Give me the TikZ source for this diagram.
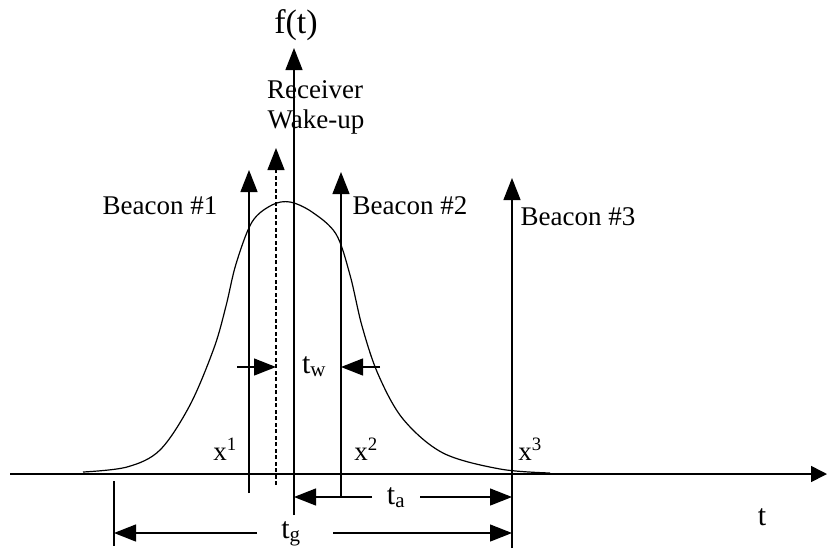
\documentclass[tikz,border=0pt]{standalone}
\usepackage{fontspec}
\setmainfont{Liberation Serif}
\usetikzlibrary{arrows.meta,positioning,calc}

\begin{document}
\begin{tikzpicture}[
    x=1pt, y=-1pt,
    lbl/.style={inner sep=0pt, anchor=base, font=\fontsize{27}{30}\selectfont},
    tlbl/.style={lbl, font=\fontsize{30}{33}\selectfont},
    curve/.style={line width=1.2pt},
    arr/.style={-{Triangle[length=22pt,width=17pt]}, line width=1.3pt},
    axarr/.style={-{Triangle[length=16pt,width=16pt]}, line width=1.6pt}
]
\useasboundingbox (0,0) rectangle (827,550);

% axes
\coordinate (tL) at (10,474);
\coordinate (tR) at (827,474);
\coordinate (fB) at (294,515);
\coordinate (fT) at (294,48);
\draw[axarr] (tL) -- (tR);
\draw[arr] (fB) -- (fT);
\node[lbl, font=\fontsize{34}{38}\selectfont] (ft) at (296,33) {f(t)};
\node[tlbl] (t) at (762,525) {t};

% density curve
\draw[curve] plot[smooth, tension=0.55] coordinates {(83,472) (127,467) (160,450)
  (190,405) (214,348) (226,306) (236,264) (252,222) (272,205) (290,202) (312,212)
  (336,234) (350,275) (362,326) (378,374) (403,419) (443,453) (500,469) (550,473)};

% beacons and wake-up
\coordinate (b1s) at (249,493);
\coordinate (b1) at (249,170);
\coordinate (wks) at (276,485);
\coordinate (wk) at (276,148);
\coordinate (b2s) at (341,497);
\coordinate (b2) at (341,172);
\coordinate (b3s) at (512,548);
\coordinate (b3) at (512,178);
\draw[arr] (b1s) -- (b1);
\draw[arr, dash pattern=on 4pt off 2.5pt] (wks) -- (wk);
\draw[arr] (b2s) -- (b2);
\draw[arr] (b3s) -- (b3);
\node[lbl] (b1l) at (160,214) {Beacon \#1};
\node[lbl] (b2l) at (410,214) {Beacon \#2};
\node[lbl] (b3l) at (578,225) {Beacon \#3};
\node[lbl] (rcv) at (315,98) {Receiver};
\node[lbl] (wku) at (316,128) {Wake-up};

% t_w
\coordinate (twL) at (237,367);
\coordinate (twR) at (380,367);
\draw[arr] (twL) -- (wks |- twL);
\draw[arr] (twR) -- (b2s |- twR);
\node[tlbl] (tw) at (314,373) {t\textsubscript{w}};

% x labels
\node[lbl] (x1) at (225,460) {x\textsuperscript{1}};
\node[lbl] (x2) at (366,460) {x\textsuperscript{2}};
\node[lbl] (x3) at (530,460) {x\textsuperscript{3}};

% t_a
\node[tlbl] (ta) at (396,504) {t\textsubscript{a}};
\coordinate (taL) at (372,497);
\coordinate (taR) at (420,497);
\draw[arr] (taL) -- (fB |- taL);
\draw[arr] (taR) -- (b3s |- taR);

% t_g
\coordinate (tgs) at (114,481);
\coordinate (tge) at (114,546);
\draw[line width=1.3pt] (tgs) -- (tge);
\node[tlbl] (tg) at (291,538) {t\textsubscript{g}};
\coordinate (tgL) at (257,533);
\coordinate (tgR) at (333,533);
\draw[arr] (tgL) -- (tgs |- tgL);
\draw[arr] (tgR) -- (b3s |- tgR);
\end{tikzpicture}
\end{document}
